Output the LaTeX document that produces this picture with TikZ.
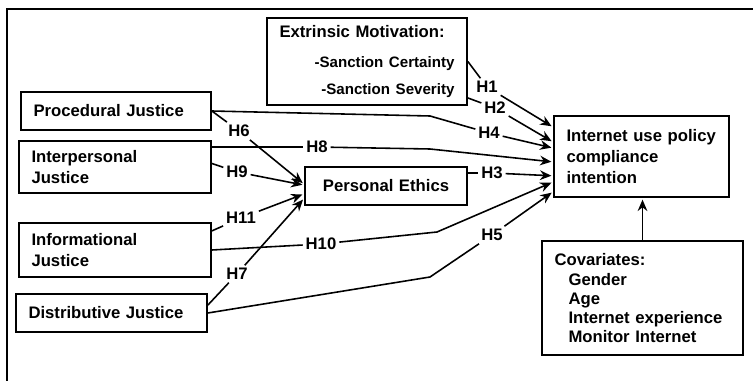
\documentclass[tikz,border=0pt]{standalone}
\usepackage{fontspec}
\setmainfont{Liberation Sans}
\usetikzlibrary{arrows.meta, calc}
\tikzstyle{construct} = [rectangle, draw=black, line width=1pt, inner xsep=0.25cm, inner ysep=0pt, align=left, font=\fontsize{9.5}{12.2}\selectfont\bfseries]
\tikzstyle{hyp} = [inner sep=1.5pt, font=\fontsize{9.5}{11}\selectfont\bfseries]
\tikzstyle{link} = [line width=0.9pt]
\tikzstyle{arrow} = [line width=0.9pt,->,>={Stealth[length=6.5pt,width=5.5pt]},shorten >=1pt]

\begin{document}
\begin{tikzpicture}[x=0.02cm, y=-0.02cm]

    \useasboundingbox (0,0) rectangle (753,381);
    \draw [line width=0.8pt] (7,381) -- (7,9) -- (753,9);

    % Constructs
    \node (ext) [construct, text width=3.5cm, minimum height=1.74cm, font=\fontsize{9.5}{15.3}\selectfont\bfseries] at (367,61.5) {Extrinsic Motivation:\\[2.3pt]{\fontsize{8.6}{15.3}\selectfont\hspace*{\fill}-Sanction Certainty\\\hspace*{\fill}-Sanction Severity}};
    \node (proc) [construct, text width=3.3cm, minimum height=0.76cm] at (116,111) {Procedural Justice};
    \node (inter) [construct, text width=3.34cm, minimum height=1.04cm] at (115,167) {Interpersonal\\Justice};
    \node (info) [construct, text width=3.34cm, minimum height=1.08cm] at (115,250) {Informational\\Justice};
    \node (dist) [construct, text width=3.32cm, minimum height=0.76cm] at (111.5,313) {Distributive Justice};
    \node (pe) [construct, text width=2.74cm, minimum height=0.76cm, align=center] at (386,186) {Personal Ethics};
    \node (intent) [construct, text width=3.0cm, minimum height=1.62cm] at (641.5,156.5) {Internet use policy\\compliance\\intention};
    \node (cov) [construct, text width=3.52cm, minimum height=2.28cm, font=\fontsize{9.5}{10.8}\selectfont\bfseries] at (642.5,298) {Covariates:\\[1pt]\hspace*{0.28cm}Gender\\\hspace*{0.28cm}Age\\\hspace*{0.28cm}Internet experience\\\hspace*{0.28cm}Monitor Internet};

    % Hypothesis labels
    \node (h1) [hyp] at (487,87) {H1};
    \node (h2) [hyp] at (495,108) {H2};
    \node (h4) [hyp] at (489,133) {H4};
    \node (h3) [hyp] at (492,173) {H3};
    \node (h8) [hyp] at (317,147) {H8};
    \node (h6) [hyp] at (239,131) {H6};
    \node (h9) [hyp] at (237,172) {H9};
    \node (h11) [hyp] at (241,218) {H11};
    \node (h10) [hyp] at (321,244) {H10};
    \node (h7) [hyp] at (237,274) {H7};
    \node (h5) [hyp] at (492,235) {H5};

    \coordinate (bend4) at (430,116);
    \coordinate (bend8) at (430,149);
    \coordinate (bend10) at (437,232);
    \coordinate (bend5) at (430,277);

    % Paths to intention
    \draw [link] (ext.east) -- (h1);
    \draw [arrow] (h1) -- ([yshift=16.7pt]intent.west);
    \draw [link] ([yshift=4.5pt]ext.south east) -- (h2);
    \draw [arrow] (h2) -- ([yshift=8.2pt]intent.west);
    \draw [link] (proc.east) -- (bend4) -- (h4);
    \draw [arrow] (h4) -- ([yshift=4.8pt]intent.west);
    \draw [link] (h8 -| inter.east) -- (h8);
    \draw [arrow] (h8) -- (bend8) -- ([yshift=-3.1pt]intent.west);
    \draw [link] (h3 -| pe.east) -- (h3);
    \draw [arrow] (h3) -- ([yshift=-11pt]intent.west);
    \draw [link] (info.east) -- (h10);
    \draw [arrow] (h10) -- (bend10) -- ([yshift=-14.5pt]intent.west);
    \draw [link] (dist.east) -- (bend5) -- (h5);
    \draw [arrow] (h5) -- ([yshift=-20pt]intent.west);

    % Paths to personal ethics
    \draw [link] (proc.east) -- (h6);
    \draw [arrow] (h6) -- ([yshift=1pt]pe.west);
    \draw [link] ([yshift=2pt]inter.east) -- (h9);
    \draw [arrow] (h9) -- ([yshift=0.5pt]pe.west);
    \draw [link] ([yshift=-5pt]info.north east) -- (h11);
    \draw [arrow] (h11) -- ([yshift=-4.5pt]pe.west);
    \draw [link] ([yshift=4.5pt]dist.east) -- (h7);
    \draw [arrow] (h7) -- ([yshift=-7pt]pe.west);

    % Covariates
    \draw [arrow] (cov.north) -- (cov.north |- intent.south);

\end{tikzpicture}
\end{document}
